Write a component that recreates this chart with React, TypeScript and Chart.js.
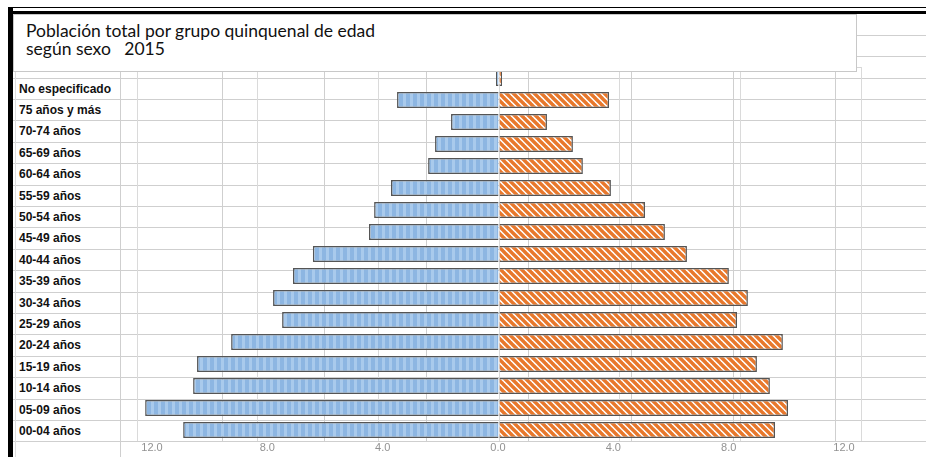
import React, { useEffect, useRef } from 'react';
import { Chart, registerables } from 'chart.js';

Chart.register(...registerables);

const categories = [
  'No especificado',
  '75 años y más',
  '70-74 años',
  '65-69 años',
  '60-64 años',
  '55-59 años',
  '50-54 años',
  '45-49 años',
  '40-44 años',
  '35-39 años',
  '30-34 años',
  '25-29 años',
  '20-24 años',
  '15-19 años',
  '10-14 años',
  '05-09 años',
  '00-04 años',
];

const hombres = [0.1, 3.38, 1.59, 2.12, 2.35, 3.58, 4.14, 4.31, 6.17, 6.83, 7.49, 7.19, 8.88, 10.01, 10.14, 11.73, 10.47];
const mujeres = [0.1, 3.65, 1.59, 2.45, 2.78, 3.71, 4.84, 5.5, 6.23, 7.62, 8.25, 7.89, 9.41, 8.55, 8.98, 9.58, 9.15];
const tickValues = [-12, -8, -4, 0, 4, 8, 12];

const titleLine1 = 'Población total por grupo quinquenal de edad';
const titleLine2 = 'según sexo   2015';

// sheet layout
const ROW_H = 21.4;
const ROW0 = 13.3;
const COL_W = 102.2;
const COL0 = 119.5;
const GRID = '#cfcfcf';

function makeMalePattern(): CanvasPattern | string {
  const c = document.createElement('canvas');
  c.width = 7;
  c.height = 4;
  const ctx = c.getContext('2d');
  if (!ctx) return '#9dc3e6';
  ctx.fillStyle = '#8db6e2';
  ctx.fillRect(0, 0, 7, 4);
  ctx.fillStyle = '#a9caec';
  ctx.fillRect(4, 0, 3, 4);
  return ctx.createPattern(c, 'repeat') || '#9dc3e6';
}

function makeFemalePattern(): CanvasPattern | string {
  const s = 7;
  const c = document.createElement('canvas');
  c.width = s;
  c.height = s;
  const ctx = c.getContext('2d');
  if (!ctx) return '#ed7d31';
  ctx.fillStyle = '#ffffff';
  ctx.fillRect(0, 0, s, s);
  ctx.strokeStyle = '#e8782c';
  ctx.lineWidth = 3.4;
  for (let k = -1; k <= 1; k++) {
    ctx.beginPath();
    ctx.moveTo(k * s - 1, -1);
    ctx.lineTo(k * s + s + 1, s + 1);
    ctx.stroke();
  }
  return ctx.createPattern(c, 'repeat') || '#ed7d31';
}

const framePlugin = {
  id: 'frameTop',
  beforeDatasetsDraw(chart: any) {
    const { ctx, chartArea } = chart;
    ctx.save();
    ctx.strokeStyle = '#d6d6d6';
    ctx.lineWidth = 1;
    ctx.beginPath();
    ctx.moveTo(chartArea.left, chartArea.top + 0.5);
    ctx.lineTo(chartArea.right, chartArea.top + 0.5);
    ctx.stroke();
    ctx.restore();
  },
};

export default function App() {
  const canvasRef = useRef<HTMLCanvasElement | null>(null);

  useEffect(() => {
    document.body.style.margin = '0';
    const canvas = canvasRef.current;
    if (!canvas) return;
    const chart = new Chart(canvas, {
      type: 'bar',
      data: {
        labels: categories,
        datasets: [
          {
            label: 'Hombres',
            data: hombres.map((v) => -v),
            backgroundColor: makeMalePattern() as any,
            borderColor: '#555555',
            borderWidth: 1.5,
            barPercentage: 0.72,
            categoryPercentage: 1,
          },
          {
            label: 'Mujeres',
            data: mujeres,
            backgroundColor: makeFemalePattern() as any,
            borderColor: '#555555',
            borderWidth: 1.5,
            barPercentage: 0.72,
            categoryPercentage: 1,
          },
        ],
      },
      options: {
        indexAxis: 'y',
        responsive: false,
        animation: false,
        layout: { padding: { left: 137, right: 65, top: 67, bottom: 0 } },
        plugins: {
          legend: { display: false },
          tooltip: { enabled: false },
          title: { display: false },
        },
        scales: {
          y: { stacked: true, display: false },
          x: {
            stacked: true,
            min: -12,
            max: 12,
            position: 'bottom',
            ticks: { display: false, stepSize: 4 },
            grid: { color: '#dadada', drawTicks: false },
            border: { display: false },
            afterFit: (s: any) => {
              s.height = 0;
            },
          },
          x2: {
            type: 'linear',
            position: 'bottom',
            min: -12.52,
            max: 12.59,
            afterBuildTicks: (s: any) => {
              s.ticks = tickValues.map((v) => ({ value: v }));
            },
            ticks: {
              callback: (v: any) => Math.abs(Number(v)).toFixed(1),
              font: { size: 11, family: 'Liberation Sans' },
              color: '#929292',
              padding: 0,
              maxRotation: 0,
              autoSkip: false,
            },
            grid: { display: false, drawTicks: false },
            border: { display: false },
            afterFit: (s: any) => {
              s.height = 16;
            },
          },
        },
      } as any,
      plugins: [framePlugin],
    });
    return () => chart.destroy();
  }, []);

  const rowLines: number[] = [];
  for (let k = 1; k <= 20; k++) rowLines.push(ROW0 + ROW_H * k);
  const colLines: number[] = [];
  for (let j = 0; j < 8; j++) colLines.push(COL0 + COL_W * j);

  return (
    <div
      style={{
        position: 'fixed',
        left: 0,
        top: 0,
        width: 926,
        height: 457,
        overflow: 'hidden',
        background: '#ffffff',
      }}
    >
      {rowLines.map((y, i) => (
        <div
          key={'r' + i}
          style={{ position: 'absolute', left: 12, top: y, width: 914, height: 1, background: GRID }}
        />
      ))}
      {colLines.map((x, i) => (
        <div
          key={'c' + i}
          style={{ position: 'absolute', left: x, top: 13, width: 1, height: i === 0 ? 444 : 429, background: GRID }}
        />
      ))}
      <div style={{ position: 'absolute', left: 14.5, top: 13, width: 1, height: 444, background: '#dedede' }} />
      {/* bottom strip under the chart */}
      <div style={{ position: 'absolute', left: 120.5, top: 442.3, width: 806, height: 15, background: '#ffffff' }} />

      {categories.map((c, i) => (
        <div
          key={'l' + i}
          style={{
            position: 'absolute',
            left: 19,
            top: ROW0 + ROW_H * (3 + i) + 2,
            height: 19,
            lineHeight: '19px',
            fontFamily: '"Liberation Sans", Arial, sans-serif',
            fontWeight: 'bold',
            fontSize: 12,
            color: '#111111',
            whiteSpace: 'nowrap',
          }}
        >
          {c}
        </div>
      ))}

      <canvas
        ref={canvasRef}
        width={926}
        height={457}
        style={{ position: 'absolute', left: 0, top: 0, width: 926, height: 457 }}
      />

      <div
        style={{
          position: 'absolute',
          left: 13,
          top: 14,
          width: 830,
          height: 49,
          background: '#ffffff',
          border: '1px solid #c8c8c8',
          fontFamily: 'Lato, "Open Sans", sans-serif',
          fontSize: 17.5,
          lineHeight: '18px',
          color: '#111111',
          paddingLeft: 12,
          paddingTop: 7,
          boxSizing: 'content-box',
          whiteSpace: 'pre',
        }}
      >
        <div>{titleLine1}</div>
        <div>{titleLine2}</div>
      </div>

      {/* black sheet borders */}
      <div style={{ position: 'absolute', left: 8, top: 6.5, width: 918, height: 1.7, background: '#000' }} />
      <div style={{ position: 'absolute', left: 8, top: 10.7, width: 918, height: 3.3, background: '#000' }} />
      <div style={{ position: 'absolute', left: 8, top: 6.5, width: 4.5, height: 451, background: '#000' }} />
    </div>
  );
}
